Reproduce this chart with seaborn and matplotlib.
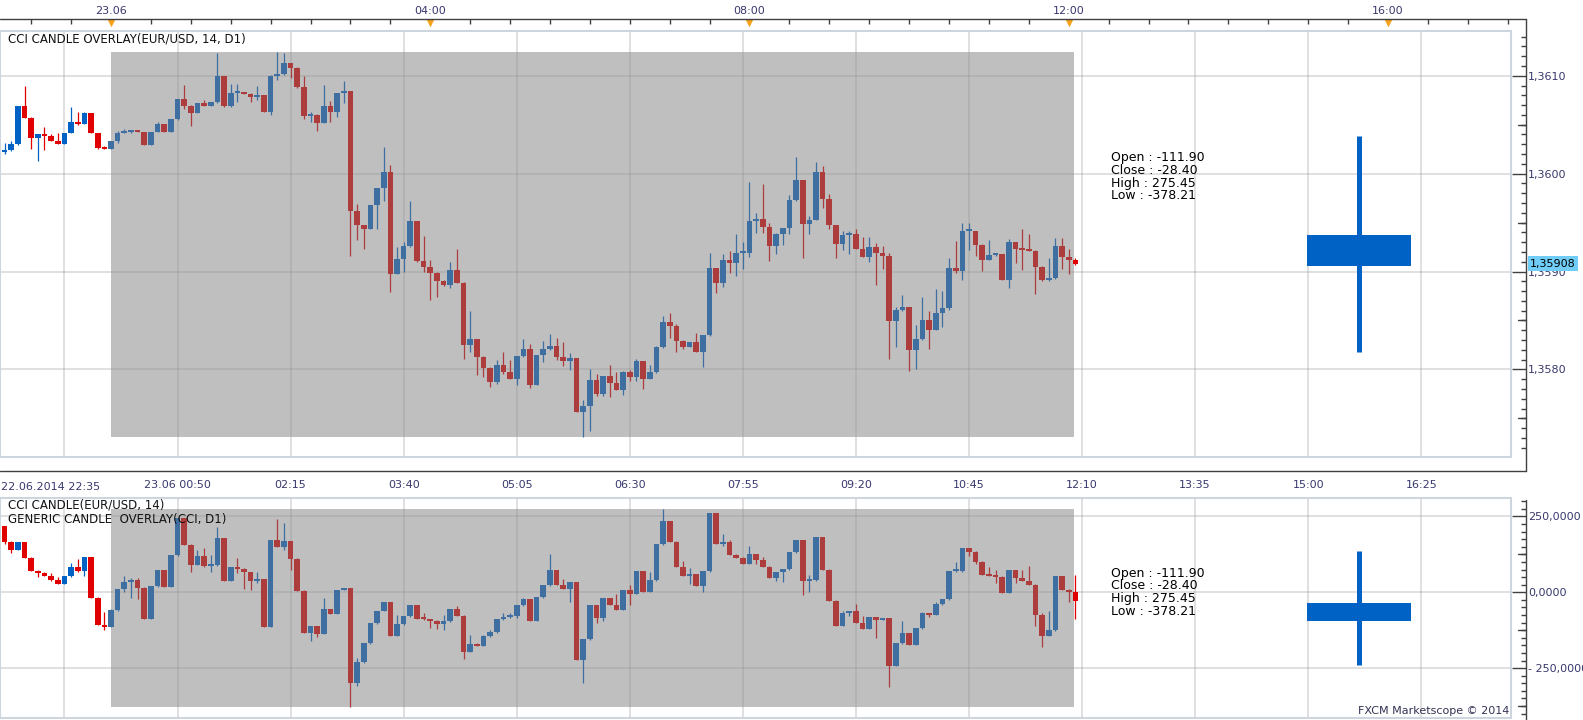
import numpy as np
import pandas as pd
import matplotlib
matplotlib.use("Agg")
import matplotlib.pyplot as plt
from matplotlib.lines import Line2D
from matplotlib.patches import Rectangle
from matplotlib.ticker import FixedLocator, FuncFormatter
import seaborn as sns

# 5-minute bars, index 0 = 23.06 00:00
bar_first, bar_last = -17, 145

# EUR/USD candles (close / high / low), open = previous close
eur_first_open = 1.35985
eur_close = [
    1.36022, 1.36024, 1.36030, 1.36069, 1.36057, 1.36036, 1.36040, 1.36038, 1.36033, 1.36030,
    1.36042, 1.36053, 1.36051, 1.36062, 1.36041, 1.36026, 1.36025,
    1.36033, 1.36042, 1.36043, 1.36044, 1.36043, 1.36029, 1.36043, 1.36051, 1.36043, 1.36056,
    1.36076, 1.36069, 1.36062, 1.36072, 1.36069, 1.36073, 1.36100, 1.36069, 1.36082, 1.36083,
    1.36081, 1.36078, 1.36080, 1.36063, 1.36100, 1.36102, 1.36113, 1.36108, 1.36088, 1.36059,
    1.36060, 1.36052, 1.36069, 1.36063, 1.36082, 1.36084, 1.35962, 1.35947, 1.35943, 1.35968,
    1.35985, 1.36002, 1.35897, 1.35913, 1.35926, 1.35952, 1.35911, 1.35905, 1.35898, 1.35890,
    1.35886, 1.35902, 1.35888, 1.35825, 1.35831, 1.35813, 1.35801, 1.35787, 1.35804, 1.35797,
    1.35790, 1.35814, 1.35821, 1.35784, 1.35815, 1.35821, 1.35824, 1.35813, 1.35809, 1.35812,
    1.35756, 1.35763, 1.35789, 1.35775, 1.35793, 1.35786, 1.35779, 1.35797, 1.35792, 1.35809,
    1.35790, 1.35797, 1.35823, 1.35848, 1.35844, 1.35829, 1.35823, 1.35828, 1.35818, 1.35835,
    1.35904, 1.35888, 1.35912, 1.35909, 1.35919, 1.35919, 1.35952, 1.35954, 1.35945, 1.35926,
    1.35938, 1.35944, 1.35973, 1.35993, 1.35949, 1.35953, 1.36002, 1.35974, 1.35947, 1.35928,
    1.35937, 1.35938, 1.35923, 1.35915, 1.35925, 1.35919, 1.35916, 1.35849, 1.35861, 1.35864,
    1.35820, 1.35831, 1.35850, 1.35840, 1.35858, 1.35863, 1.35904, 1.35901, 1.35941, 1.35941,
    1.35927, 1.35912, 1.35917, 1.35918, 1.35891, 1.35930, 1.35923, 1.35922, 1.35921, 1.35905,
    1.35891, 1.35893, 1.35926, 1.35915, 1.35912, 1.35908,
]
eur_high = [
    1.36022, 1.36031, 1.36033, 1.36069, 1.36090, 1.36058, 1.36040, 1.36048, 1.36040, 1.36041,
    1.36042, 1.36068, 1.36063, 1.36063, 1.36062, 1.36041, 1.36028,
    1.36033, 1.36044, 1.36046, 1.36044, 1.36044, 1.36043, 1.36043, 1.36053, 1.36051, 1.36056,
    1.36076, 1.36091, 1.36070, 1.36072, 1.36075, 1.36073, 1.36123, 1.36100, 1.36092, 1.36092,
    1.36083, 1.36082, 1.36090, 1.36080, 1.36101, 1.36124, 1.36123, 1.36113, 1.36109, 1.36100,
    1.36063, 1.36061, 1.36091, 1.36074, 1.36082, 1.36095, 1.36084, 1.35969, 1.35947, 1.35968,
    1.35985, 1.36027, 1.36009, 1.35925, 1.35930, 1.35972, 1.35952, 1.35936, 1.35912, 1.35899,
    1.35891, 1.35910, 1.35923, 1.35889, 1.35860, 1.35831, 1.35814, 1.35802, 1.35810, 1.35818,
    1.35810, 1.35814, 1.35831, 1.35826, 1.35815, 1.35829, 1.35836, 1.35832, 1.35828, 1.35817,
    1.35812, 1.35769, 1.35800, 1.35795, 1.35793, 1.35804, 1.35797, 1.35798, 1.35799, 1.35811,
    1.35809, 1.35804, 1.35824, 1.35855, 1.35858, 1.35846, 1.35830, 1.35828, 1.35837, 1.35835,
    1.35919, 1.35904, 1.35918, 1.35921, 1.35938, 1.35930, 1.35991, 1.35960, 1.35989, 1.35950,
    1.35939, 1.35944, 1.35978, 1.36017, 1.35993, 1.35957, 1.36012, 1.36008, 1.35979, 1.35948,
    1.35941, 1.35941, 1.35943, 1.35935, 1.35935, 1.35929, 1.35926, 1.35919, 1.35864, 1.35876,
    1.35864, 1.35845, 1.35874, 1.35860, 1.35882, 1.35880, 1.35914, 1.35931, 1.35950, 1.35950,
    1.35941, 1.35928, 1.35932, 1.35918, 1.35918, 1.35933, 1.35930, 1.35943, 1.35938, 1.35922,
    1.35906, 1.35914, 1.35934, 1.35934, 1.35923, 1.35914,
]
eur_low = [
    1.35985, 1.36020, 1.36023, 1.36029, 1.36057, 1.36025, 1.36013, 1.36024, 1.36033, 1.36030,
    1.36030, 1.36042, 1.36050, 1.36051, 1.36041, 1.36025, 1.36025,
    1.36025, 1.36031, 1.36041, 1.36041, 1.36043, 1.36029, 1.36029, 1.36043, 1.36043, 1.36043,
    1.36055, 1.36066, 1.36049, 1.36062, 1.36069, 1.36069, 1.36072, 1.36068, 1.36068, 1.36073,
    1.36081, 1.36073, 1.36075, 1.36063, 1.36060, 1.36096, 1.36101, 1.36098, 1.36087, 1.36056,
    1.36053, 1.36044, 1.36052, 1.36053, 1.36058, 1.36072, 1.35916, 1.35932, 1.35923, 1.35943,
    1.35943, 1.35972, 1.35879, 1.35897, 1.35900, 1.35925, 1.35910, 1.35899, 1.35871, 1.35874,
    1.35885, 1.35883, 1.35888, 1.35811, 1.35818, 1.35794, 1.35792, 1.35782, 1.35785, 1.35795,
    1.35790, 1.35784, 1.35813, 1.35781, 1.35784, 1.35808, 1.35820, 1.35810, 1.35803, 1.35799,
    1.35756, 1.35731, 1.35737, 1.35773, 1.35773, 1.35772, 1.35779, 1.35774, 1.35788, 1.35788,
    1.35780, 1.35790, 1.35796, 1.35822, 1.35832, 1.35818, 1.35821, 1.35823, 1.35818, 1.35802,
    1.35834, 1.35878, 1.35884, 1.35898, 1.35895, 1.35903, 1.35915, 1.35939, 1.35939, 1.35911,
    1.35918, 1.35927, 1.35938, 1.35972, 1.35914, 1.35938, 1.35953, 1.35965, 1.35943, 1.35914,
    1.35922, 1.35918, 1.35923, 1.35915, 1.35910, 1.35886, 1.35903, 1.35811, 1.35823, 1.35860,
    1.35798, 1.35800, 1.35830, 1.35821, 1.35840, 1.35843, 1.35861, 1.35898, 1.35891, 1.35922,
    1.35916, 1.35901, 1.35912, 1.35916, 1.35891, 1.35883, 1.35909, 1.35902, 1.35921, 1.35877,
    1.35890, 1.35890, 1.35892, 1.35903, 1.35897, 1.35907,
]

# CCI(14) candles
cci_first_open = 178.0
cci_close = [
    219.8, 167.0, 139.6, 167.0, 114.3, 71.4, 64.8, 54.9, 40.7, 27.5,
    53.8, 83.5, 70.3, 115.4, -17.6, -107.7, -114.3,
    -58.2, 11.0, 34.1, 40.7, 15.4, -86.8, 19.8, 73.6, 17.6, 123.1,
    243.9, 156.0, 91.2, 120.9, 86.8, 91.2, 180.2, 38.5, 82.4, 78.0,
    65.9, 38.5, 44.0, -115.4, 172.5, 150.5, 170.3, 109.9, 5.5, -133.0,
    -109.9, -137.4, -53.8, -70.3, 7.7, 14.3, -297.8, -229.7, -167.0, -101.1,
    -60.4, -31.9, -142.9, -104.4, -78.0, -41.8, -86.8, -89.0, -93.4, -104.4,
    -94.5, -54.9, -76.9, -196.7, -169.2, -176.9, -144.0, -130.8, -87.9, -81.3,
    -78.0, -41.8, -22.0, -93.4, -16.5, 24.2, 73.6, 25.3, 12.1, 34.1,
    -222.0, -153.8, -41.8, -83.5, -18.7, -41.8, -57.1, 7.7, -4.4, 70.3,
    1.1, 40.7, 159.3, 235.2, 165.9, 83.5, 53.8, 60.4, 20.9, 70.3,
    261.5, 159.3, 165.9, 123.1, 113.2, 93.4, 126.4, 106.6, 83.5, 47.3,
    67.0, 76.9, 133.0, 172.5, 37.4, 40.7, 182.4, 73.6, -28.6, -111.0,
    -68.1, -61.5, -101.1, -120.9, -81.3, -91.2, -84.6, -242.9, -167.0, -134.1,
    -173.6, -117.6, -68.1, -74.7, -38.5, -22.0, 70.3, 71.4, 146.2, 133.0,
    100.0, 57.1, 55.0, 50.5, -2.2, 73.6, 47.3, 37.4, 24.2, -74.7,
    -144.0, -124.2, 53.8, 7.7, 1.1, -28.4,
]
cci_high = [
    219.8, 218.7, 169.2, 167.0, 167.0, 116.5, 73.6, 67.0, 62.6, 51.6,
    53.8, 97.8, 111.0, 117.6, 114.3, -14.3, -64.8,
    -53.8, 11.0, 53.8, 46.2, 48.4, 17.6, 19.8, 73.6, 73.6, 123.1,
    243.9, 243.9, 159.3, 139.6, 145.1, 123.1, 216.5, 180.2, 82.4, 112.1,
    80.2, 68.1, 68.1, 44.0, 172.5, 241.8, 227.5, 169.2, 113.2, 7.7,
    -109.9, -109.9, -17.6, -53.8, 7.7, 14.3, 14.3, -217.6, -167.0, -101.1,
    -60.4, -31.9, -31.9, -74.7, -78.0, -41.8, -41.8, -69.2, -87.9, -91.2,
    -74.7, -54.9, -45.1, -74.7, -140.7, -167.0, -140.7, -123.1, -87.9, -68.1,
    -68.1, -41.8, -17.6, -22.0, -16.5, 24.2, 126.4, 73.6, 44.0, 34.1,
    34.1, -153.8, -41.8, -41.8, -18.7, -18.7, -5.5, 7.7, 24.2, 70.3,
    70.3, 67.0, 159.3, 275.45, 235.2, 169.2, 103.3, 80.2, 60.4, 70.3,
    261.5, 261.5, 192.3, 172.5, 126.4, 116.5, 152.7, 126.4, 116.5, 86.8,
    67.0, 76.9, 133.0, 172.5, 172.5, 57.1, 182.4, 182.4, 76.9, -25.3,
    -61.5, -61.5, -38.5, -78.0, -81.3, -81.3, -84.6, -84.6, -167.0, -94.5,
    -134.1, -117.6, -64.8, -68.1, -31.9, -22.0, 70.3, 100.0, 146.2, 146.2,
    136.3, 103.3, 83.5, 73.6, 53.8, 73.6, 73.6, 73.6, 86.8, 27.5,
    -68.1, -61.5, 53.8, 53.8, 11.0, 57.1,
]
cci_low = [
    178.0, 159.3, 130.8, 139.6, 114.3, 71.4, 51.6, 54.9, 37.4, 27.5,
    26.4, 51.6, 65.9, 54.9, -17.6, -107.7, -123.1,
    -114.3, -60.4, 2.2, -17.6, -22.0, -86.8, -86.8, 17.6, 17.6, 17.6,
    119.8, 156.0, 68.1, 91.2, 84.6, 68.1, 86.8, 38.5, 38.5, 62.6,
    11.0, 7.7, 29.7, -115.4, -115.4, 150.5, 139.6, 73.6, 5.5, -133.0,
    -159.3, -146.2, -137.4, -70.3, -70.3, 7.7, -378.21, -308.8, -231.9, -170.3,
    -104.4, -62.6, -142.9, -142.9, -107.7, -80.2, -86.8, -91.2, -116.5, -119.8,
    -123.1, -96.7, -76.9, -219.8, -196.7, -176.9, -176.9, -146.2, -133.0, -91.2,
    -84.6, -84.6, -45.1, -93.4, -93.4, -18.7, 22.0, 25.3, 12.1, -30.8,
    -222.0, -297.8, -157.1, -100.0, -93.4, -41.8, -57.1, -57.1, -40.7, -4.4,
    1.1, 1.1, 38.5, 156.0, 165.9, 83.5, 53.8, 27.5, 20.9, 1.1,
    67.0, 159.3, 152.7, 123.1, 113.2, 93.4, 93.4, 93.4, 83.5, 47.3,
    37.4, 34.1, 73.6, 129.7, -8.8, 1.1, 37.4, 73.6, -28.6, -111.0,
    -111.0, -78.0, -101.1, -120.9, -120.9, -150.5, -91.2, -312.1, -242.9, -170.3,
    -173.6, -173.6, -120.9, -81.3, -74.7, -41.8, -25.3, 68.1, 68.1, 119.8,
    93.4, 57.1, 55.0, 30.8, -2.2, -2.2, 30.8, 37.4, 24.2, -111.0,
    -180.2, -144.0, -127.5, 7.7, -31.9, -87.9,
]

# daily candle drawn at the right (as shown)
eur_d1 = {"open": 1.35937, "close": 1.35906, "high": 1.36038, "low": 1.35818}
cci_d1 = {"open": -94.6, "close": -35.3, "high": 136.2, "low": -239.7}
d1_text = ["Open : -111.90", "Close : -28.40", "High : 275.45", "Low : -378.21"]
last_price = 1.35908

# axis labels
time_labels = ["22.06.2014 22:35", "23.06 00:50", "02:15", "03:40", "05:05", "06:30", "07:55",
               "09:20", "10:45", "12:10", "13:35", "15:00", "16:25"]
time_bars = [-7, 10, 27, 44, 61, 78, 95, 112, 129, 146, 163, 180, 197]
top_labels = ["23.06", "04:00", "08:00", "12:00", "16:00"]
top_bars = [0, 48, 96, 144, 192]
eur_ticks = [1.3580, 1.3590, 1.3600, 1.3610]
cci_ticks = [-250, 0, 250]

BLUE, RED = "#0062c4", "#e00000"
MBLUE, MRED = "#3f6ea0", "#ad3d3d"
GRAY = "#bfbfbf"
AXC = "#404040"
LBL = "#38386e"
FRAME = "#cdd5df"

sns.set_style("white")
plt.rcParams["font.family"] = ["DejaVu Sans"]

W, H = 1583, 720
fig = plt.figure(figsize=(W / 100, H / 100), dpi=100)


def fx(x):
    return x / W


def fy(y):
    return 1 - y / H


def box(x0, y0, x1, y1):
    return [fx(x0), fy(y1), (x1 - x0) / W, (y1 - y0) / H]


PX = 72 / 100  # px -> pt
ax1 = fig.add_axes(box(0, 31, 1511, 457))
ax2 = fig.add_axes(box(0, 498, 1511, 718))


def make_frame(close, high, low, first_open):
    df = pd.DataFrame({"bar": np.arange(bar_first, bar_last + 1), "close": close, "high": high, "low": low})
    df["open"] = df["close"].shift(1).fillna(first_open)
    df["high"] = df[["high", "open", "close"]].max(axis=1)
    df["low"] = df[["low", "open", "close"]].min(axis=1)
    df["up"] = df["close"] >= df["open"]
    df["session"] = (df["bar"] >= 0) & (df["bar"] < bar_last)
    return df


def draw_candles(ax, df, min_body):
    col = np.where(df["session"], np.where(df["up"], MBLUE, MRED), np.where(df["up"], BLUE, RED))
    ax.vlines(df["bar"], df["low"], df["high"], colors=col, lw=0.9, zorder=3)
    lo = df[["open", "close"]].min(axis=1)
    hgt = (df["close"] - df["open"]).abs().clip(lower=min_body)
    ax.bar(df["bar"], hgt, bottom=lo, width=0.85, color=col, linewidth=0, zorder=4)
    # day overlay box (gray)
    day = df[df["bar"] >= 0]
    ax.add_patch(Rectangle((0, day["low"].min()), bar_last - 0.25, day["high"].max() - day["low"].min(),
                           fc=GRAY, ec="none", zorder=0.3))


eur = make_frame(eur_close, eur_high, eur_low, eur_first_open)
cci = make_frame(cci_close, cci_high, cci_low, cci_first_open)
draw_candles(ax1, eur, 2e-5)
draw_candles(ax2, cci, 6)

# right hand daily candle
for ax, d in ((ax1, eur_d1), (ax2, cci_d1)):
    ax.vlines(187.6, d["low"], d["high"], color=BLUE, lw=3.6, zorder=4)
    lo, hi = min(d["open"], d["close"]), max(d["open"], d["close"])
    ax.bar(187.6, hi - lo, bottom=lo, width=15.6, color=BLUE, linewidth=0, zorder=4)

x_lo, x_hi = (0 - 111) / 6.651, (1511 - 111) / 6.651
minor_x = [b + 17 * i / 8 for b in time_bars for i in range(1, 8)]
minor_x = [m for m in minor_x if x_lo < m < x_hi] + [-7 - 17 * i / 8 for i in range(1, 5)]

for ax, yl in ((ax1, (1.357105, 1.361457)), (ax2, (-414.4, 310.9))):
    ax.set_xlim(x_lo, x_hi)
    ax.set_ylim(*yl)
    ax.set_axisbelow(True)
    ax.grid(True, which="major", color="#909090", alpha=0.3, lw=1.3)
    for s in ax.spines.values():
        s.set_visible(False)
    ax.add_patch(Rectangle((0, 0), 1, 1, transform=ax.transAxes, fill=False, ec=FRAME,
                           lw=1.5, clip_on=False, zorder=6))
    ax.yaxis.tick_right()
    ax.spines["right"].set_position(("outward", 14.5 * PX))
    ax.tick_params(axis="y", which="major", direction="in", length=14.5 * PX, width=1,
                   color=AXC, pad=1.8, labelsize=8, labelcolor=LBL)
    ax.tick_params(axis="y", which="minor", direction="in", length=4.7 * PX, width=1, color=AXC)
    ax.set_xticks(time_bars)

# price axis
ax1.set_yticks(eur_ticks)
ax1.yaxis.set_minor_locator(FixedLocator(np.round(np.arange(1.3571, 1.36146, 0.0001), 4)))
ax1.yaxis.set_major_formatter(FuncFormatter(lambda v, p: f"{v:.4f}".replace(".", ",")))
ax2.set_yticks(cci_ticks)
ax2.yaxis.set_minor_locator(FixedLocator(np.arange(-400, 310, 25)))


def cci_fmt(v, p):
    s = f"{abs(v):.4f}".replace(".", ",")
    return "- " + s if v < 0 else s


ax2.yaxis.set_major_formatter(FuncFormatter(cci_fmt))

# medium ticks every 0.0005 / 125
xs = [(1525.5 - 8) / 1511, 1525.5 / 1511]
for v in [1.3575, 1.3585, 1.3595, 1.3605]:
    ax1.plot(xs, [v, v], color=AXC, lw=1, transform=ax1.get_yaxis_transform(), clip_on=False)
for v in [-375, -125, 125]:
    ax2.plot(xs, [v, v], color=AXC, lw=1, transform=ax2.get_yaxis_transform(), clip_on=False)

# time axis under the price panel
ax1.spines["bottom"].set_position(("outward", 14 * PX))
ax1.set_xticklabels([""] + time_labels[1:])
ax1.xaxis.set_minor_locator(FixedLocator(minor_x))
ax1.tick_params(axis="x", which="major", direction="in", length=13 * PX, width=1, color=AXC,
                pad=6.5, labelsize=8, labelcolor=LBL)
ax1.tick_params(axis="x", which="minor", direction="in", length=6 * PX, width=1, color=AXC)
fig.text(fx(1), fy(487), time_labels[0], ha="left", va="center", fontsize=8, color=LBL)

ax2.tick_params(axis="x", which="both", length=0, labelbottom=False)

# hour axis on top
top = ax1.secondary_xaxis(1 + 12 / 426)
for s in top.spines.values():
    s.set_visible(False)
top.set_xticks(top_bars)
top.set_xticklabels(top_labels)
top.xaxis.set_minor_locator(FixedLocator([b for b in range(-18, 211, 6) if b % 48 != 0]))
top.tick_params(which="major", length=0, pad=2.5, labelsize=8, labelcolor=LBL)
top.tick_params(which="minor", direction="in", length=5 * PX, width=1, color=AXC)
ax1.scatter(top_bars, [1 + 8.5 / 426] * len(top_bars), marker="v", s=30, color="#f7a21b",
            transform=ax1.get_xaxis_transform(), clip_on=False, zorder=7, linewidths=0)

# axis lines
for x0, y0, x1, y1 in [(0, 19, 1525.5, 19), (1525.5, 19, 1525.5, 471), (0, 471, 1525.5, 471),
                       (1525.5, 500, 1525.5, 720)]:
    fig.add_artist(Line2D([fx(x0), fx(x1)], [fy(y0), fy(y1)], color=AXC, lw=1.0,
                          transform=fig.transFigure))

# current price tag
ax1.text(1530 / 1511, last_price, f"{last_price:.5f}".replace(".", ","), transform=ax1.get_yaxis_transform(),
         ha="left", va="center", fontsize=8, color="black", zorder=8,
         bbox=dict(boxstyle="square,pad=0.2", fc="#6fcdf7", ec="none"))

# captions
fig.text(fx(8), fy(39), "CCI CANDLE OVERLAY(EUR/USD, 14, D1)", fontsize=8.5, va="center", color="#111111")
fig.text(fx(8), fy(505), "CCI CANDLE(EUR/USD, 14)", fontsize=8.5, va="center", color="#111111")
fig.text(fx(8), fy(519), "GENERIC CANDLE  OVERLAY(CCI, D1)", fontsize=8.5, va="center", color="#111111")
for i, t in enumerate(d1_text):
    fig.text(fx(1111), fy(157.5 + 12.8 * i), t, fontsize=9, va="center", color="black")
    fig.text(fx(1111), fy(573 + 12.7 * i), t, fontsize=9, va="center", color="black")
fig.text(fx(1509), fy(711), "FXCM Marketscope \u00a9 2014", fontsize=8, ha="right", va="center", color="#333355")

fig.savefig("out.png", dpi=100)
